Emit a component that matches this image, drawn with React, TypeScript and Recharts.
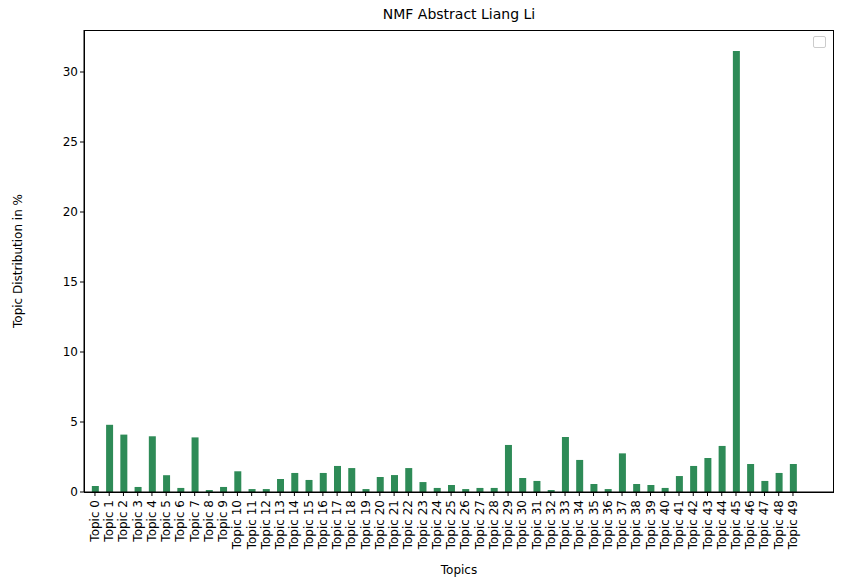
import React from "react";
import { BarChart, Bar, XAxis, YAxis } from "recharts";

const topics: string[] = Array.from({ length: 50 }, (_, i) => `Topic ${i}`);
const values: number[] = [
  0.43, 4.8, 4.1, 0.36, 3.98, 1.2, 0.29, 3.9, 0.14, 0.36,
  1.48, 0.21, 0.21, 0.93, 1.36, 0.86, 1.36, 1.86, 1.71, 0.21,
  1.07, 1.21, 1.71, 0.71, 0.29, 0.5, 0.21, 0.29, 0.29, 3.36,
  1.0, 0.79, 0.14, 3.93, 2.29, 0.57, 0.21, 2.76, 0.57, 0.5,
  0.29, 1.14, 1.86, 2.43, 3.29, 31.5, 2.0, 0.79, 1.36, 2.0,
];
const yTicks = [0, 5, 10, 15, 20, 25, 30];

const data = topics.map((t, i) => ({ idx: i, name: t, value: values[i] }));
const font = "DejaVu Sans, sans-serif";

function TopicTick(props: any) {
  const { x, y, payload } = props;
  return (
    <text
      x={x}
      y={y + 2}
      transform={`rotate(-90, ${x}, ${y + 2})`}
      textAnchor="end"
      dominantBaseline="central"
      fontSize={12}
      fontFamily={font}
      fill="#000"
    >
      {topics[payload.value]}
    </text>
  );
}

export default function App() {
  return (
    <div style={{ position: "absolute", left: 0, top: 0, width: 842, height: 588, background: "#fff", fontFamily: font }}>
      <BarChart
        width={842}
        height={588}
        data={data}
        margin={{ top: 30, right: 8, left: 0, bottom: 0 }}
      >
        <XAxis
          dataKey="idx"
          type="number"
          domain={[-0.77, 51.88]}
          ticks={data.map((d) => d.idx)}
          interval={0}
          tick={<TopicTick />}
          tickSize={4}
          stroke="#000"
          height={96}
          allowDataOverflow
        />
        <YAxis
          type="number"
          domain={[0, 33]}
          ticks={yTicks}
          tick={{ fill: "#000", fontSize: 12, fontFamily: font }}
          tickSize={4}
          stroke="#000"
          width={84}
        />
        <Bar dataKey="value" fill="#2e8b57" barSize={7} isAnimationActive={false} />
      </BarChart>
      <div style={{ position: "absolute", left: 84, top: 30, width: 750, height: 463, border: "1px solid #000", boxSizing: "border-box", pointerEvents: "none" }} />
      <div style={{ position: "absolute", left: 813, top: 36, width: 13, height: 12, border: "1px solid #ccc", borderRadius: 2, boxSizing: "border-box" }} />
      <div style={{ position: "absolute", left: 84, top: 6, width: 750, textAlign: "center", fontSize: 14 }}>NMF Abstract Liang Li</div>
      <div style={{ position: "absolute", left: 84, top: 563, width: 750, textAlign: "center", fontSize: 12 }}>Topics</div>
      <div style={{ position: "absolute", left: 18, top: 261, fontSize: 12, transform: "translate(-50%, -50%) rotate(-90deg)", whiteSpace: "nowrap" }}>Topic Distribution in %</div>
    </div>
  );
}
